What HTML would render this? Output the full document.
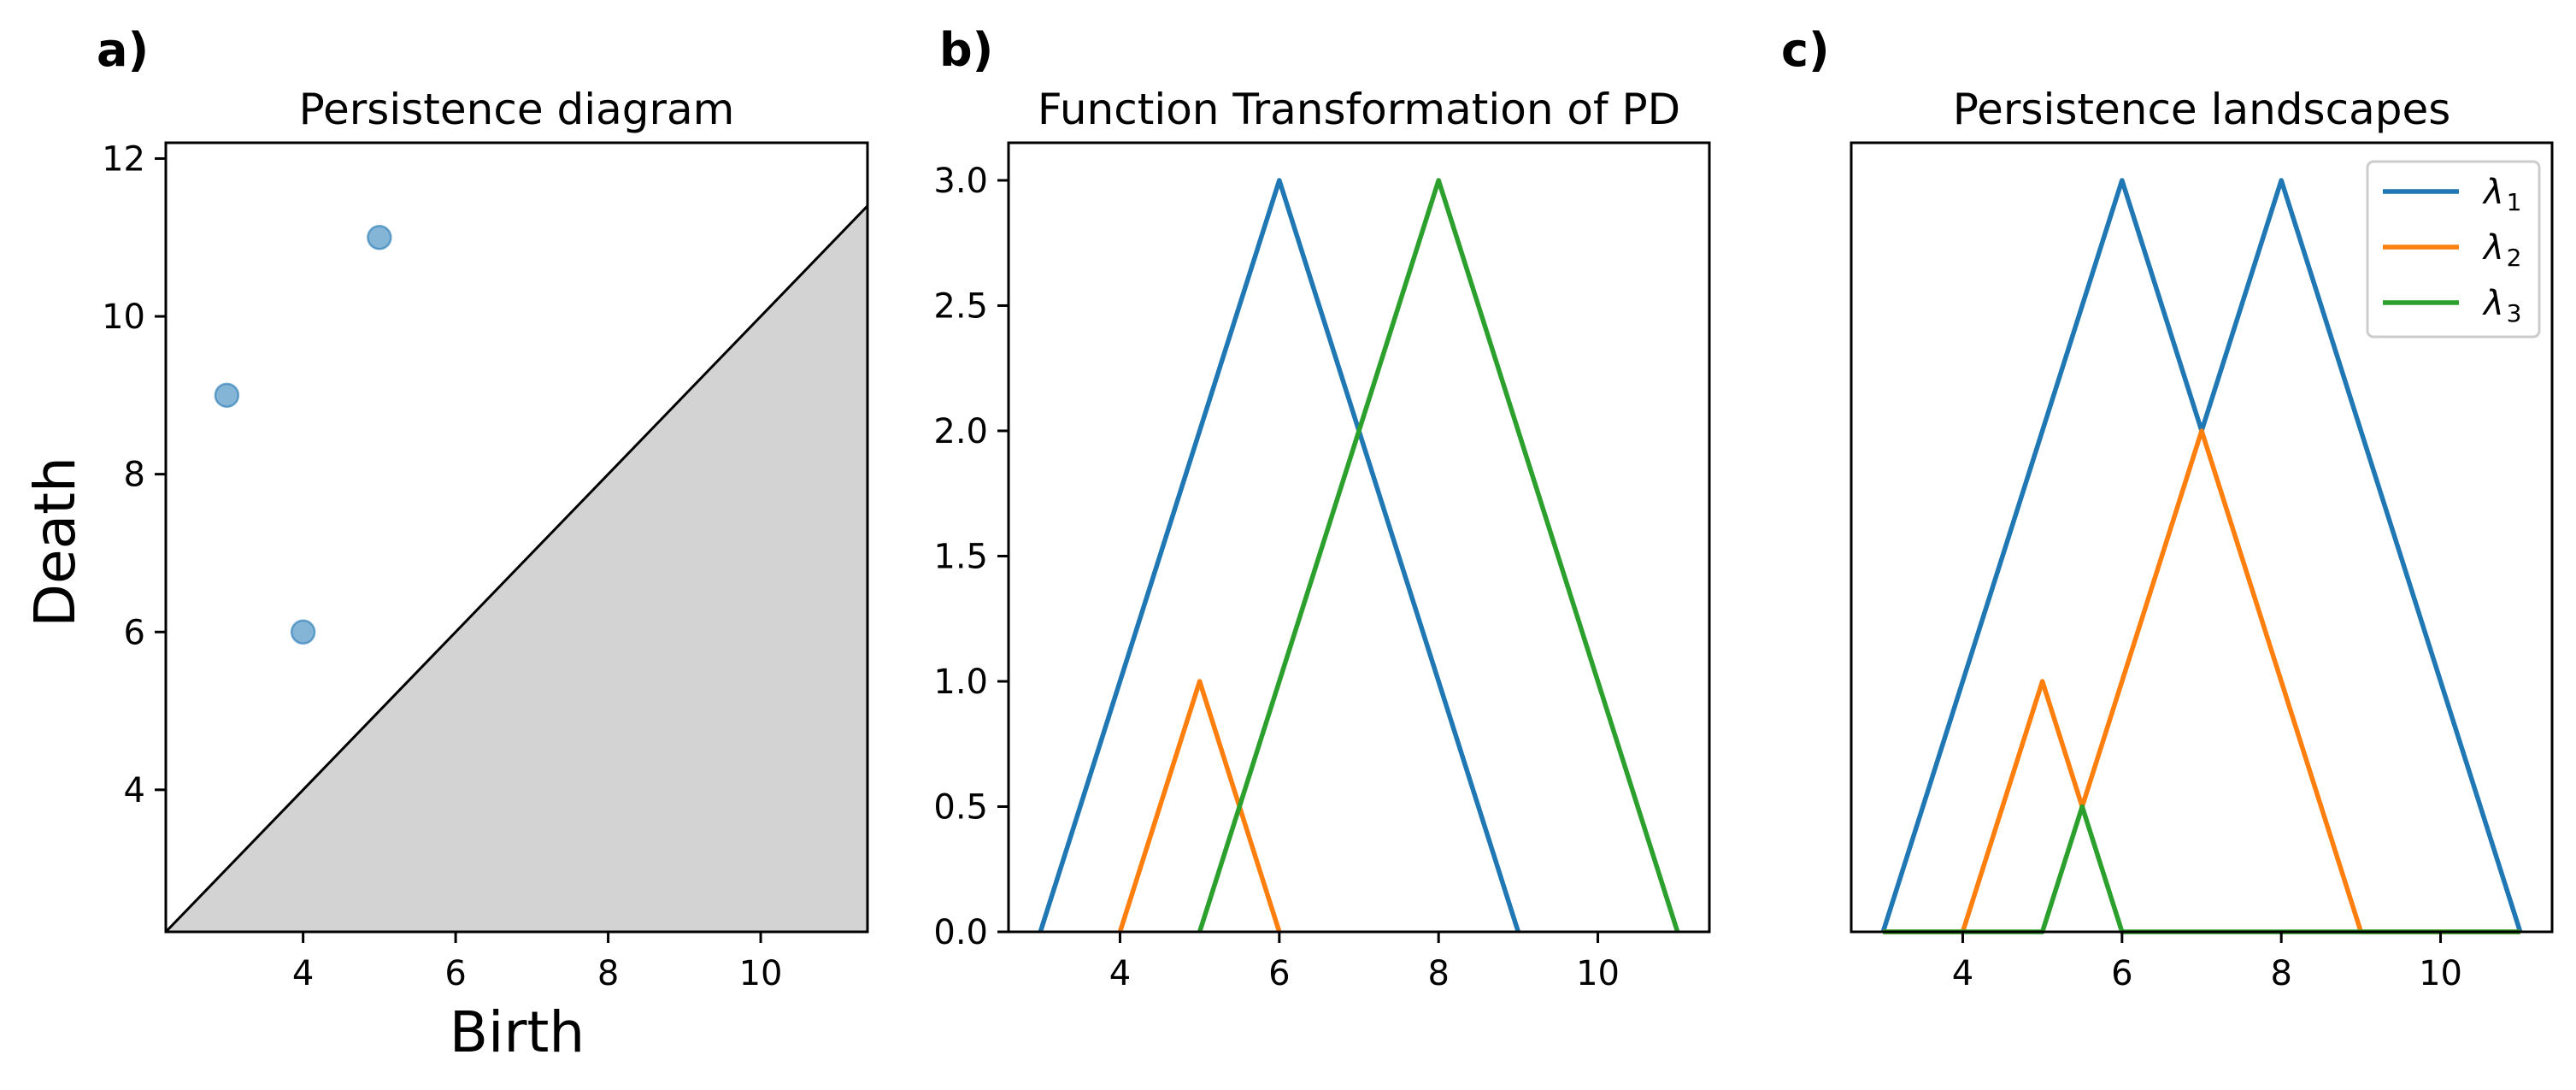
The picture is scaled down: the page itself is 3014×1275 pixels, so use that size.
<!DOCTYPE html>
<html><head><meta charset="utf-8">
<style>
html,body{margin:0;padding:0;background:#fff;}
svg{display:block;font-family:"DejaVu Sans","Liberation Sans",sans-serif;}
</style></head>
<body>
<svg id="fig" width="3014" height="1275" viewBox="0 0 3014 1275" xmlns="http://www.w3.org/2000/svg"></svg>
<script>
// ---- data ----
const pdBirth = [3, 5, 4];
const pdDeath = [9, 11, 6];
const pdXTicks = [4, 6, 8, 10];
const pdYTicks = [4, 6, 8, 10, 12];
const funcNames = ['f1', 'f2', 'f3'];
const funcX1 = [3, 6, 9];
const funcY1 = [0, 3, 0];
const funcX2 = [4, 5, 6];
const funcY2 = [0, 1, 0];
const funcX3 = [5, 8, 11];
const funcY3 = [0, 3, 0];
const funcYTicks = [0.0, 0.5, 1.0, 1.5, 2.0, 2.5, 3.0];
const funcXTicks = [4, 6, 8, 10];
const landX1 = [3, 6, 7, 8, 11];
const landY1 = [0, 3, 2, 3, 0];
const landX2 = [3, 4, 5, 5.5, 7, 9, 11];
const landY2 = [0, 0, 1, 0.5, 2, 0, 0];
const landX3 = [3, 5, 5.5, 6, 11];
const landY3 = [0, 0, 0.5, 0, 0];
const legendLabels = ['1', '2', '3'];

const colors = ['#1f77b4', '#ff7f0e', '#2ca02c'];
const NS = 'http://www.w3.org/2000/svg';
const svg = document.getElementById('fig');
function el(tag, attrs, parent) {
  const e = document.createElementNS(NS, tag);
  for (const k in attrs) e.setAttribute(k, attrs[k]);
  (parent || svg).appendChild(e);
  return e;
}
function txt(s, attrs, parent) { const t = el('text', attrs, parent); t.textContent = s; return t; }

function makeAxes(L, T, W, H, xmin, xmax, ymin, ymax) {
  return {
    L, T, W, H,
    sx: v => L + (v - xmin) / (xmax - xmin) * W,
    sy: v => T + H - (v - ymin) / (ymax - ymin) * H
  };
}
function frame(ax, name) {
  const r = el('rect', {x: ax.L, y: ax.T, width: ax.W, height: ax.H, fill: 'none', stroke: '#000', 'stroke-width': 3});
  
  
}
function xticks(ax, ticks, name) {
  const g = el('g', {});
  
  
  ticks.forEach(v => {
    const x = ax.sx(v);
    el('line', {x1: x, x2: x, y1: ax.T + ax.H, y2: ax.T + ax.H + 13, stroke: '#000', 'stroke-width': 3}, g);
    const t = txt(String(v), {x: x, y: ax.T + ax.H + 62, 'font-size': 40, 'text-anchor': 'middle'}, g);
    
    
  });
}
function yticks(ax, ticks, name, fmt) {
  const g = el('g', {});
  
  
  ticks.forEach(v => {
    const y = ax.sy(v);
    el('line', {x1: ax.L - 13, x2: ax.L, y1: y, y2: y, stroke: '#000', 'stroke-width': 3}, g);
    const t = txt(fmt ? v.toFixed(1) : String(v), {x: ax.L - 24, y: y + 14, 'font-size': 40, 'text-anchor': 'end'}, g);
    
    
  });
}
function line(ax, xs, ys, color, name, clip) {
  const pts = xs.map((x, i) => ax.sx(x) + ',' + ax.sy(ys[i])).join(' ');
  const p = el('polyline', {points: pts, fill: 'none', stroke: color, 'stroke-width': 5.5, 'stroke-linejoin': 'round'});
  
  
}
function title(ax, s, name) {
  const t = txt(s, {x: ax.L + ax.W / 2, y: 145, 'font-size': 50, 'text-anchor': 'middle'});
  
  
}
function letter(x, s, name) {
  const t = txt(s, {x: x, y: 77, 'font-size': 54, 'font-weight': 'bold'});
  
  
}

// ---- panel a ----
const axA = makeAxes(194, 167, 821, 923, 2.2, 11.4, 2.2, 12.2);
const defs = el('defs', {});
const cp = el('clipPath', {id: 'clipA'}, defs);
el('rect', {x: axA.L, y: axA.T, width: axA.W, height: axA.H}, cp);
const fillPts = [[2.2, 2.2], [11.4, 11.4], [11.4, 2.2]].map(p => axA.sx(p[0]) + ',' + axA.sy(p[1])).join(' ');
const poly = el('polygon', {points: fillPts, fill: '#d3d3d3', 'clip-path': 'url(#clipA)'});


const diag = el('line', {x1: axA.sx(2.2), y1: axA.sy(2.2), x2: axA.sx(11.4), y2: axA.sy(11.4), stroke: '#000', 'stroke-width': 3, 'clip-path': 'url(#clipA)'});


pdBirth.forEach((b, i) => {
  const c = el('circle', {cx: axA.sx(b), cy: axA.sy(pdDeath[i]), r: 13.5, fill: 'rgba(31,119,180,0.55)', stroke: 'rgba(31,119,180,0.6)', 'stroke-width': 2.5});
  
  
});
frame(axA, 'panel-a');
xticks(axA, pdXTicks, 'panel-a');
yticks(axA, pdYTicks, 'panel-a', false);
title(axA, 'Persistence diagram', 'panel-a-title');
letter(113, 'a)', 'panel-a-letter');
const xl = txt('Birth', {x: 605, y: 1230, 'font-size': 66, 'text-anchor': 'middle'});


const yl = txt('Death', {x: 0, y: 0, 'font-size': 66, 'text-anchor': 'middle', transform: 'translate(87,634) rotate(-90)'});



// ---- panel b ----
const axB = makeAxes(1180, 167, 820, 923, 2.6, 11.4, 0, 3.15);
line(axB, funcX1, funcY1, colors[0], 'function-' + funcNames[0]);
line(axB, funcX2, funcY2, colors[1], 'function-' + funcNames[1]);
line(axB, funcX3, funcY3, colors[2], 'function-' + funcNames[2]);
frame(axB, 'panel-b');
xticks(axB, funcXTicks, 'panel-b');
yticks(axB, funcYTicks, 'panel-b', true);
title(axB, 'Function Transformation of PD', 'panel-b-title');
letter(1099, 'b)', 'panel-b-letter');

// ---- panel c ----
const axC = makeAxes(2166, 167, 820, 923, 2.6, 11.4, 0, 3.15);
line(axC, landX1, landY1, colors[0], 'landscape-lambda-1');
line(axC, landX2, landY2, colors[1], 'landscape-lambda-2');
line(axC, landX3, landY3, colors[2], 'landscape-lambda-3');
frame(axC, 'panel-c');
xticks(axC, funcXTicks, 'panel-c');
title(axC, 'Persistence landscapes', 'panel-c-title');
letter(2084, 'c)', 'panel-c-letter');

// legend
const lg = el('g', {});


el('rect', {x: 2770, y: 189, width: 201, height: 205, rx: 7, fill: 'rgba(255,255,255,0.8)', stroke: '#cccccc', 'stroke-width': 3}, lg);
legendLabels.forEach((s, i) => {
  const y = 224 + i * 65;
  const e = el('g', {}, lg);
  
  
  el('line', {x1: 2788, x2: 2877, y1: y, y2: y, stroke: colors[i], 'stroke-width': 5.5}, e);
  const t = el('text', {x: 2906, y: y + 14, 'font-size': 40, 'font-style': 'italic'}, e);
  t.textContent = 'λ';
  const sub = el('tspan', {'font-size': 28, 'font-style': 'normal', dx: 3, dy: 8}, t);
  sub.textContent = s;
});
</script>
</body></html>
